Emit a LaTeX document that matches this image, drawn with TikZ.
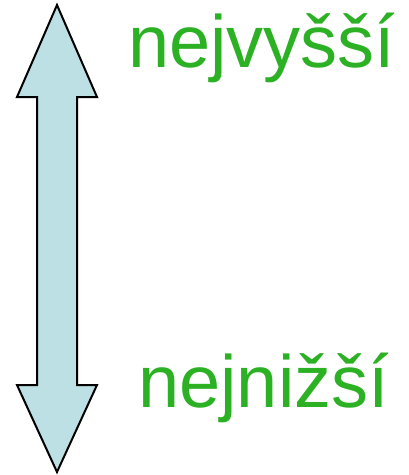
\documentclass[tikz,border=0pt]{standalone}
\usepackage{fontspec}
\setmainfont{Liberation Sans}
\usepackage{tikz}
\usetikzlibrary{calc}
\definecolor{shaftblue}{RGB}{188,224,227}
\definecolor{labelgreen}{RGB}{44,176,36}

\begin{document}
\begin{tikzpicture}[x=1pt,y=-1pt,
  label/.style={anchor=base west,inner sep=0pt,text=labelgreen,font=\fontsize{74}{88}\selectfont}]
\useasboundingbox (0,0) rectangle (408,475);
\draw [line width=2pt,line join=miter,fill=shaftblue] (57,5) -- (97,97) -- (77,97) -- (77,385) -- (97,385) -- (57,472) -- (17,385) -- (37,385) -- (37,97) -- (17,97) -- cycle;
\node [label] (top) at (128,67) {nejvyšší};
\node [label] (bottom) at (138,407) {nejnižší};
\end{tikzpicture}
\end{document}
